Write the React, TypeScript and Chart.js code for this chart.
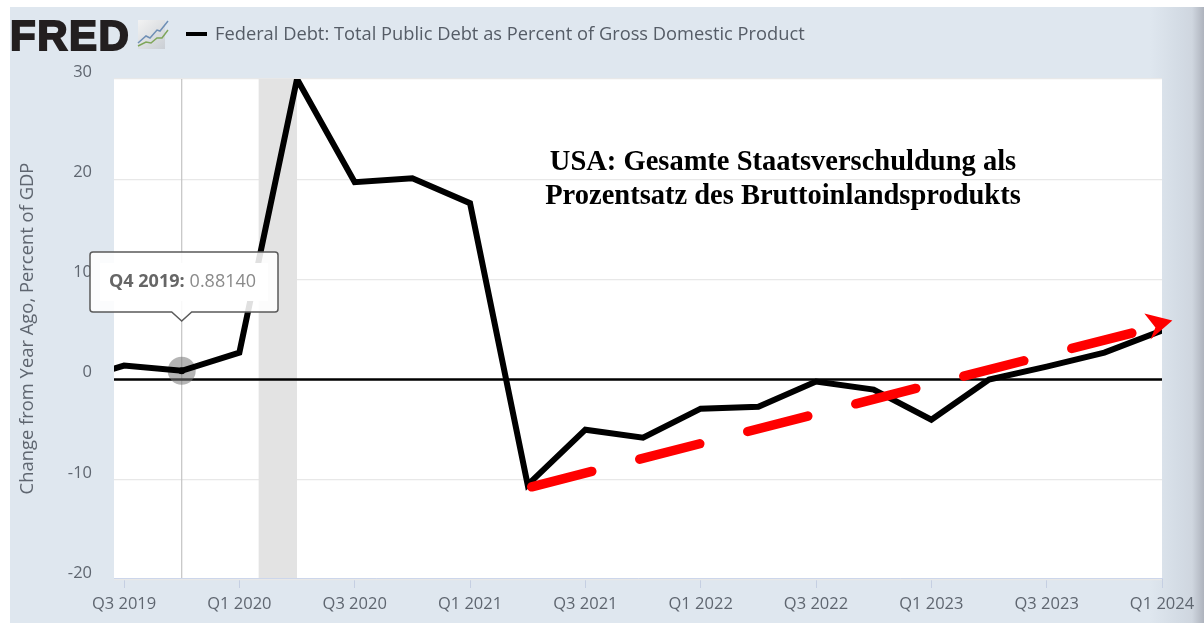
import React, { useEffect, useRef } from "react";
import { Chart, registerables } from "chart.js";

Chart.register(...registerables);

const seriesName = "Federal Debt: Total Public Debt as Percent of Gross Domestic Product";
const titleLines = ["USA: Gesamte Staatsverschuldung als", "Prozentsatz des Bruttoinlandsprodukts"];
const yAxisTitle = "Change from Year Ago, Percent of GDP";

// quarter position 0 = Q3 2019
const quarterPositions = [-1, 0, 1, 2, 3, 4, 5, 6, 7, 8, 9, 10, 11, 12, 13, 14, 15, 16, 17, 18];
const debtChange = [-0.3, 1.4, 0.8814, 2.7, 30, 19.7, 20.1, 17.6, -10.5, -5, -5.8, -2.9, -2.7, -0.2, -1, -4, 0, 1.3, 2.7, 4.9];
const tickPositions = [0, 2, 4, 6, 8, 10, 12, 14, 16, 18];
const tickLabels = ["Q3 2019", "Q1 2020", "Q3 2020", "Q1 2021", "Q3 2021", "Q1 2022", "Q3 2022", "Q1 2023", "Q3 2023", "Q1 2024"];
const yTicks = [-20, -10, 0, 10, 20, 30];
const recessionSpan = [2.33, 3];
const xRange = [-0.174, 18];
const yRange = [-19.8, 30];
const hoverIndex = 2;
const trendX = [7.07, 17.55];
const trendY = [-10.7, 4.75];
const arrowTip = [18.18, 5.9];

const FONT = '"Open Sans", sans-serif';

const decorations = {
  id: "decorations",
  afterDraw(chart: any) {
    const { ctx, scales } = chart;
    ctx.save();

    // logo
    ctx.fillStyle = "#231f20";
    ctx.strokeStyle = "#231f20";
    ctx.lineWidth = 2;
    ctx.lineJoin = "miter";
    ctx.textBaseline = "alphabetic";
    ctx.textAlign = "left";
    ctx.font = 'bold 42px "Liberation Sans", sans-serif';
    ctx.letterSpacing = "1.5px";
    ctx.fillText("FRED", 10, 50);
    ctx.strokeText("FRED", 10, 50);
    ctx.letterSpacing = "0px";

    const g = ctx.createLinearGradient(137, 20, 165, 50);
    g.addColorStop(0, "#f3f3f3");
    g.addColorStop(1, "#c9ced4");
    ctx.fillStyle = g;
    ctx.fillRect(138, 20, 27, 29);
    ctx.lineWidth = 1.5;
    ctx.strokeStyle = "#6f8fb5";
    ctx.beginPath();
    ctx.moveTo(138, 43); ctx.lineTo(146, 36); ctx.lineTo(150, 38); ctx.lineTo(157, 30); ctx.lineTo(160, 31); ctx.lineTo(168, 21);
    ctx.stroke();
    ctx.strokeStyle = "#7fa65a";
    ctx.beginPath();
    ctx.moveTo(138, 46); ctx.lineTo(146, 42); ctx.lineTo(151, 43); ctx.lineTo(157, 38); ctx.lineTo(162, 38); ctx.lineTo(168, 30);
    ctx.stroke();

    // legend
    ctx.strokeStyle = "#000";
    ctx.lineWidth = 4;
    ctx.beginPath();
    ctx.moveTo(186, 34); ctx.lineTo(207, 34);
    ctx.stroke();
    ctx.fillStyle = "#555c66";
    ctx.font = `18.3px ${FONT}`;
    ctx.textBaseline = "middle";
    ctx.fillText(seriesName, 215, 35);

    // title
    ctx.fillStyle = "#000";
    ctx.textAlign = "center";
    ctx.font = 'bold 28.5px "Liberation Serif", serif';
    ctx.fillText(titleLines[0], 783, 163);
    ctx.fillText(titleLines[1], 783, 197);

    // arrow head of the trend line
    const tx = scales.x.getPixelForValue(arrowTip[0]);
    const ty = scales.y.getPixelForValue(arrowTip[1]);
    ctx.fillStyle = "#ff0000";
    ctx.beginPath();
    ctx.moveTo(tx, ty);
    ctx.lineTo(tx - 28, ty - 7);
    ctx.lineTo(tx - 17, ty + 7);
    ctx.lineTo(tx - 22, ty + 19);
    ctx.closePath();
    ctx.fill();

    // tooltip
    const px = scales.x.getPixelForValue(quarterPositions[hoverIndex]);
    const L = 90, R = 278, T = 252, B = 312;
    ctx.beginPath();
    ctx.moveTo(L + 3, T);
    ctx.lineTo(R - 3, T);
    ctx.quadraticCurveTo(R, T, R, T + 3);
    ctx.lineTo(R, B - 3);
    ctx.quadraticCurveTo(R, B, R - 3, B);
    ctx.lineTo(px + 10, B);
    ctx.lineTo(px, B + 9);
    ctx.lineTo(px - 10, B);
    ctx.lineTo(L + 3, B);
    ctx.quadraticCurveTo(L, B, L, B - 3);
    ctx.lineTo(L, T + 3);
    ctx.quadraticCurveTo(L, T, L + 3, T);
    ctx.closePath();
    ctx.fillStyle = "rgba(255,255,255,0.88)";
    ctx.fill();
    ctx.strokeStyle = "#5a5a5a";
    ctx.lineWidth = 1.5;
    ctx.stroke();
    ctx.fillStyle = "#fff";
    ctx.fillRect(100, 263, 168, 38);

    ctx.textAlign = "left";
    ctx.textBaseline = "middle";
    ctx.font = `bold 18px ${FONT}`;
    ctx.fillStyle = "#666";
    const label = "Q4 2019:";
    ctx.fillText(label, 109, 282);
    const w = ctx.measureText(label).width;
    ctx.font = `18px ${FONT}`;
    ctx.fillStyle = "#8a8a8a";
    ctx.fillText(debtChange[hoverIndex].toFixed(5), 109 + w + 5, 282);

    ctx.restore();
  },
};

export default function App() {
  const ref = useRef<HTMLCanvasElement>(null);

  useEffect(() => {
    document.body.style.margin = "0";
    const chart = new Chart(ref.current!, {
      type: "line",
      data: {
        datasets: [
          {
            label: "Trend",
            data: trendX.map((x, i) => ({ x, y: trendY[i] })),
            borderColor: "#ff0000",
            borderWidth: 9.5,
            borderCapStyle: "round",
            borderDash: [62, 49.5],
            pointRadius: 0,
            clip: false,
            order: 0,
          },
          {
            label: "Hover dot",
            data: [{ x: quarterPositions[hoverIndex], y: debtChange[hoverIndex] }],
            showLine: false,
            pointRadius: 3.5,
            pointBackgroundColor: "#000",
            pointBorderWidth: 0,
            order: 1,
          },
          {
            label: seriesName,
            data: quarterPositions.map((x, i) => ({ x, y: debtChange[i] })),
            borderColor: "#000",
            borderWidth: 6,
            borderJoinStyle: "miter",
            pointRadius: 0,
            tension: 0,
            order: 2,
          },
          {
            label: "Hover halo",
            data: [{ x: quarterPositions[hoverIndex], y: debtChange[hoverIndex] }],
            showLine: false,
            pointRadius: 14,
            pointBackgroundColor: "rgba(120,120,120,0.55)",
            pointBorderWidth: 0,
            order: 3,
          },
          {
            label: "Zero line",
            data: xRange.map((x) => ({ x, y: 0 })),
            borderColor: "#000",
            borderWidth: 2.5,
            pointRadius: 0,
            order: 4,
          },
          {
            label: "Crosshair",
            data: yRange.map((y) => ({ x: quarterPositions[hoverIndex], y })),
            borderColor: "#c4c4c4",
            borderWidth: 1.2,
            pointRadius: 0,
            order: 5,
          },
          {
            label: "Recession",
            data: recessionSpan.map((x) => ({ x, y: yRange[1] })),
            borderWidth: 0,
            backgroundColor: "#e3e3e3",
            fill: "start",
            pointRadius: 0,
            order: 6,
          },
        ],
      },
      options: {
        responsive: false,
        animation: false,
        events: [],
        layout: { padding: { top: 79, right: 42, left: 0, bottom: 0 } },
        plugins: { legend: { display: false }, tooltip: { enabled: false }, title: { display: false } },
        scales: {
          x: {
            type: "linear",
            min: xRange[0],
            max: xRange[1],
            afterBuildTicks: (s: any) => {
              s.ticks = tickPositions.map((value) => ({ value }));
            },
            afterFit: (s: any) => {
              s.height = 45;
            },
            ticks: {
              autoSkip: false,
              maxRotation: 0,
              padding: 6,
              color: "#5f6670",
              font: { family: FONT, size: 16.5 },
              callback: (v: any) => tickLabels[tickPositions.indexOf(v)],
            },
            grid: { drawOnChartArea: false, drawTicks: true, tickLength: 10, color: "#c5cfe2" },
            border: { display: true, color: "#ccd6eb" },
          },
          y: {
            type: "linear",
            min: yRange[0],
            max: yRange[1],
            afterBuildTicks: (s: any) => {
              s.ticks = yTicks.map((value) => ({ value }));
            },
            afterFit: (s: any) => {
              s.width = 114;
            },
            ticks: {
              padding: 22,
              labelOffset: -7,
              color: "#5f6670",
              font: { family: FONT, size: 16.5 },
            },
            title: {
              display: true,
              text: yAxisTitle,
              color: "#5f6670",
              font: { family: FONT, size: 18.4 },
              padding: { top: 17, bottom: 0 },
            },
            grid: { drawTicks: false, color: "#e8e8e8", lineWidth: 1.2 },
            border: { display: false },
          },
        },
      },
      plugins: [decorations],
    } as any);
    return () => chart.destroy();
  }, []);

  return (
    <div
      style={{
        position: "relative",
        width: 1204,
        height: 623,
        overflow: "hidden",
        background: "#fff",
      }}
    >
      <div
        style={{
          position: "absolute",
          left: 10,
          top: 7,
          right: 0,
          bottom: 0,
          background:
            "linear-gradient(to right, #dfe7ef 0, #dfe7ef 1140px, #d3dbe4 1170px, #cfd6df 1182px, #aeb3bd 1194px)",
        }}
      />
      <div style={{ position: "absolute", left: 114, top: 79, width: 1048, height: 499, background: "#fff" }} />
      <canvas ref={ref} width={1204} height={623} style={{ position: "absolute", left: 0, top: 0, display: "block" }} />
    </div>
  );
}
